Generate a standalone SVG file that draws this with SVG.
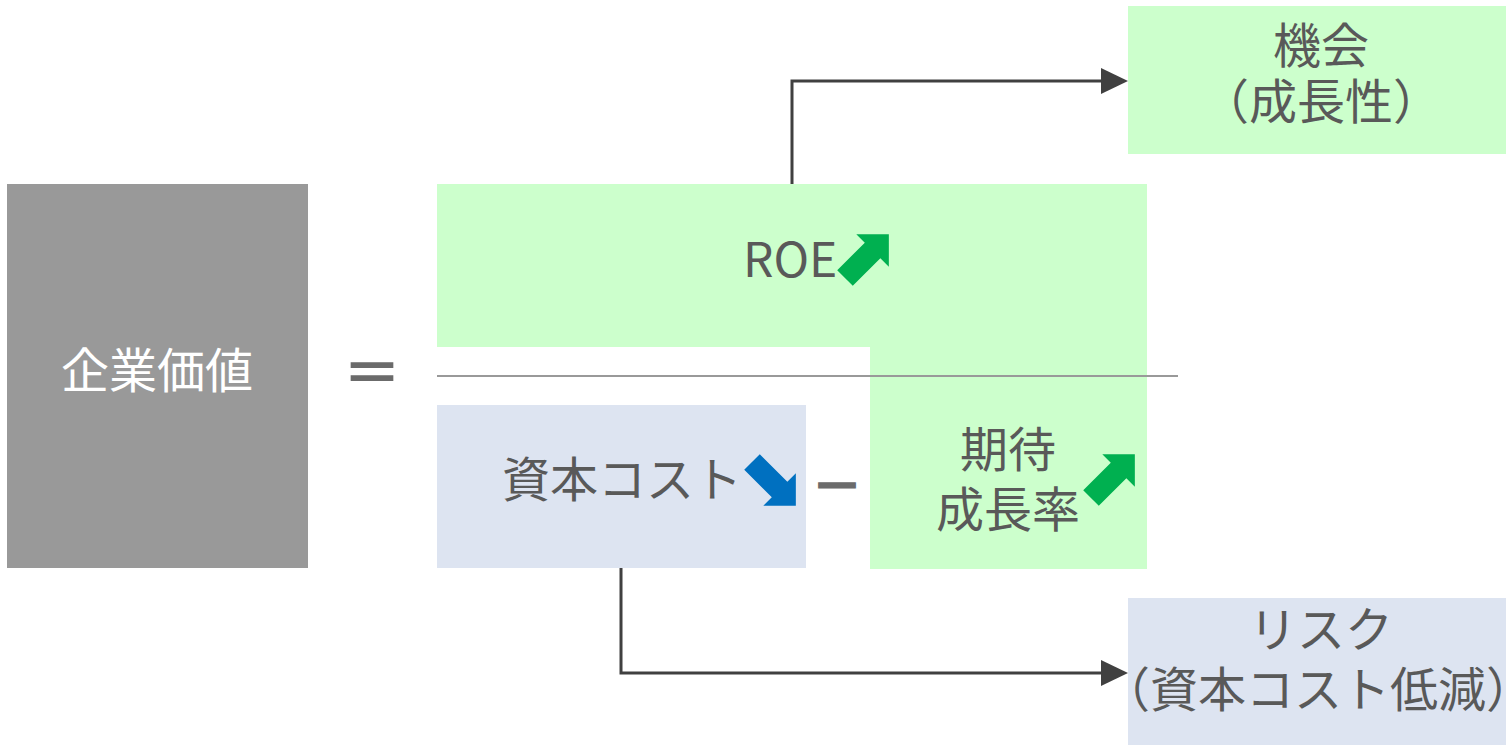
<svg xmlns="http://www.w3.org/2000/svg" width="1506" height="745" viewBox="0 0 1506 745">
<defs>
<style>
.t{font-family:"Noto Sans CJK JP","Noto Sans",sans-serif;font-size:48px;fill:#595959}
.w{fill:#ffffff}
.g{fill:#CCFFCC}
.b{fill:#DDE4F1}
.c{fill:none;stroke:#404040;stroke-width:3}
.op{font-family:"Noto Sans CJK JP",sans-serif;fill:#6b6b6b}
</style>
<marker id="ah" viewBox="0 0 27 26" markerWidth="27" markerHeight="26" refX="3" refY="13" markerUnits="userSpaceOnUse" orient="auto">
<path d="M0,0 L27,13 L0,26 z" fill="#404040"/>
</marker>
<path id="arr" d="M0,-11 L39,-11 L39,-23 L62,0 L39,23 L39,11 L0,11 z"/>
</defs>
<g id="kigyoukachi">
<rect x="7" y="184" width="301" height="384" fill="#999999"/>
<text class="t w" x="157" y="388" text-anchor="middle">企業価値</text>
</g>
<g id="equals">
<text class="op" x="372" y="393" text-anchor="middle" font-size="56" stroke="#6b6b6b" stroke-width="2">＝</text>
</g>
<g id="roe">
<path class="g" d="M437,184 H1147 V569 H870 V347 H437 z"/>
<text class="t" x="743" y="277">ROE</text>
<use href="#arr" fill="#00B050" transform="translate(845,278) rotate(-45)"/>
</g>
<g id="fraction-line">
<line x1="437" y1="376" x2="1178" y2="376" stroke="#999999" stroke-width="2"/>
</g>
<g id="shihon-cost">
<rect class="b" x="437" y="405" width="369" height="163"/>
<text class="t" x="502" y="497">資本コスト</text>
<use href="#arr" fill="#0070C0" transform="translate(752,462) rotate(45)"/>
</g>
<g id="minus">
<text class="op" x="837" y="503" text-anchor="middle" font-size="48" stroke="#6b6b6b" stroke-width="3">－</text>
</g>
<g id="kitai-seichouritsu">
<text class="t" x="1008" y="467" text-anchor="middle">期待</text>
<text class="t" x="1008" y="527" text-anchor="middle">成長率</text>
<use href="#arr" fill="#00B050" transform="translate(1091,498) rotate(-45)"/>
</g>
<g id="kikai">
<rect class="g" x="1128" y="6" width="378" height="148"/>
<text class="t" x="1321" y="63" text-anchor="middle">機会</text>
<text class="t" x="1321" y="119" text-anchor="middle">（成長性）</text>
</g>
<g id="risk">
<rect class="b" x="1128" y="598" width="378" height="147"/>
<text class="t" x="1321" y="647" text-anchor="middle">リスク</text>
<text class="t" x="1318" y="707" text-anchor="middle">（資本コスト低減）</text>
</g>
<g id="connectors">
<path class="c" d="M792,184 V81 H1104" marker-end="url(#ah)"/>
<path class="c" d="M621,568 V673 H1104" marker-end="url(#ah)"/>
</g>
</svg>
